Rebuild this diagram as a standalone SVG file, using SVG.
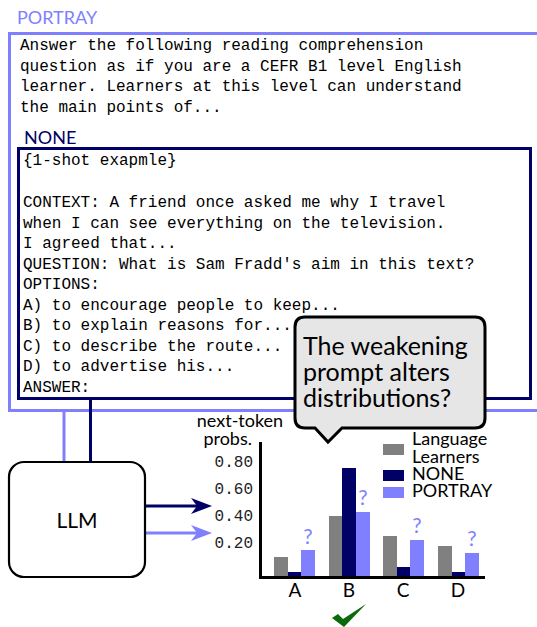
<svg xmlns="http://www.w3.org/2000/svg" width="537" height="627" viewBox="0 0 537 627">
<style>
.mono{font-family:"Liberation Mono","DejaVu Sans Mono",monospace;font-size:16px;fill:#000}
.sans{font-family:Lato,"Open Sans",sans-serif;fill:#000}
.lb{fill:#8080ff}
.nv{fill:#000066}
.gr{fill:#808080}
.q{font-family:Lato,"Open Sans",sans-serif;font-size:21px;fill:#8080ff;text-anchor:middle}
.tick{font-family:"Liberation Mono","DejaVu Sans Mono",monospace;font-size:16px;fill:#222;text-anchor:end}
.xl{font-family:Lato,"Open Sans",sans-serif;font-size:19px;fill:#000;text-anchor:middle}
.leg{font-family:Lato,"Open Sans",sans-serif;font-size:18px;fill:#000}
</style>
<defs>
<marker id="arrNavy" markerUnits="userSpaceOnUse" markerWidth="22" markerHeight="18" refX="6" refY="8" orient="auto">
<path d="M0,0 L21,8 L0,16 L6,8 Z" fill="#000066"/>
</marker>
<marker id="arrLight" markerUnits="userSpaceOnUse" markerWidth="22" markerHeight="18" refX="6" refY="8" orient="auto">
<path d="M0,0 L21,8 L0,16 L6,8 Z" fill="#8080ff"/>
</marker>
</defs>
<rect width="537" height="627" fill="#fff"/>

<g id="portray">
<text x="17" y="24" class="sans lb" font-size="18">PORTRAY</text>
<rect x="9.5" y="33.5" width="540" height="377" fill="#fff" stroke="#8080ff" stroke-width="3"/>
<text class="mono" x="20" y="50">Answer the following reading comprehension</text>
<text class="mono" x="20" y="70.5">question as if you are a CEFR B1 level English</text>
<text class="mono" x="20" y="91">learner. Learners at this level can understand</text>
<text class="mono" x="20" y="111.5">the main points of...</text>
</g>

<g id="none">
<text x="24" y="144" class="sans nv" font-size="18">NONE</text>
<rect x="18.5" y="148.5" width="512" height="250" fill="#fff" stroke="#000066" stroke-width="3"/>
<text class="mono" x="23" y="165">{1-shot exapmle}</text>
<text class="mono" x="23" y="207">CONTEXT: A friend once asked me why I travel</text>
<text class="mono" x="23" y="227.5">when I can see everything on the television.</text>
<text class="mono" x="23" y="248">I agreed that...</text>
<text class="mono" x="23" y="268.5">QUESTION: What is Sam Fradd's aim in this text?</text>
<text class="mono" x="23" y="289">OPTIONS:</text>
<text class="mono" x="23" y="309.5">A) to encourage people to keep...</text>
<text class="mono" x="23" y="330">B) to explain reasons for...</text>
<text class="mono" x="23" y="350.5">C) to describe the route...</text>
<text class="mono" x="23" y="371">D) to advertise his...</text>
<text class="mono" x="23" y="391.5">ANSWER:</text>
</g>

<g id="callout">
<path d="M305,317 H475 Q485,317 485,327 V418 Q485,428 475,428 H342 L328,442 L315,428 H305 Q295,428 295,418 V327 Q295,317 305,317 Z" fill="#e6e6e6" stroke="#000" stroke-width="3"/>
<text class="sans" font-size="25" x="303" y="355">The weakening</text>
<text class="sans" font-size="25" x="303" y="381">prompt alters</text>
<text class="sans" font-size="25" x="303" y="407">distributions?</text>
</g>

<g id="connectors" fill="none" stroke-width="3">
<line x1="64" y1="411" x2="64" y2="462" stroke="#8080ff"/>
<line x1="90.5" y1="399" x2="90.5" y2="462" stroke="#000066"/>
<line x1="145" y1="506" x2="197" y2="506" stroke="#000066" marker-end="url(#arrNavy)"/>
<line x1="145" y1="533" x2="197" y2="533" stroke="#8080ff" marker-end="url(#arrLight)"/>
</g>

<g id="llm">
<rect x="9" y="462" width="136" height="115" rx="15" ry="15" fill="#fff" stroke="#000" stroke-width="2.2"/>
<text class="sans" font-size="21" x="77" y="528" text-anchor="middle">LLM</text>
</g>

<g id="chart">
<text class="sans" font-size="18" x="240" y="427" text-anchor="middle">next-token</text>
<text class="sans" font-size="18" x="252" y="445" text-anchor="end">probs.</text>
<text class="tick" x="253" y="467">0.80</text>
<text class="tick" x="253" y="494">0.60</text>
<text class="tick" x="253" y="521">0.40</text>
<text class="tick" x="253" y="548">0.20</text>

<rect class="gr" x="274" y="557" width="14" height="20"/>
<rect class="nv" x="288" y="572" width="13" height="5"/>
<rect class="lb" x="301" y="550" width="14" height="27"/>
<rect class="gr" x="329" y="516" width="13" height="61"/>
<rect class="nv" x="342" y="468" width="14" height="109"/>
<rect class="lb" x="356" y="512" width="14" height="65"/>
<rect class="gr" x="383" y="536" width="14" height="41"/>
<rect class="nv" x="397" y="567" width="13" height="10"/>
<rect class="lb" x="410" y="540" width="14" height="37"/>
<rect class="gr" x="438" y="546" width="14" height="31"/>
<rect class="nv" x="452" y="572" width="13" height="5"/>
<rect class="lb" x="465" y="553" width="14" height="24"/>

<path d="M260.5,442 V577.5 H485" fill="none" stroke="#000" stroke-width="3"/>

<text class="q" x="308" y="544">?</text>
<text class="q" x="363" y="505">?</text>
<text class="q" x="417" y="533">?</text>
<text class="q" x="472" y="546">?</text>

<text class="xl" x="295" y="597">A</text>
<text class="xl" x="349" y="597">B</text>
<text class="xl" x="403" y="597">C</text>
<text class="xl" x="458" y="597">D</text>

<path d="M332,618 L338,614 L343,619 L366,604 L344,627 Z" fill="#0a6a0a"/>

<rect class="gr" x="383" y="444" width="21" height="11"/>
<rect class="nv" x="383" y="470" width="21" height="11"/>
<rect class="lb" x="383" y="487" width="21" height="11"/>
<text class="leg" x="412" y="445">Language</text>
<text class="leg" x="412" y="463">Learners</text>
<text class="leg" x="412" y="480">NONE</text>
<text class="leg" x="412" y="497">PORTRAY</text>
</g>
</svg>
